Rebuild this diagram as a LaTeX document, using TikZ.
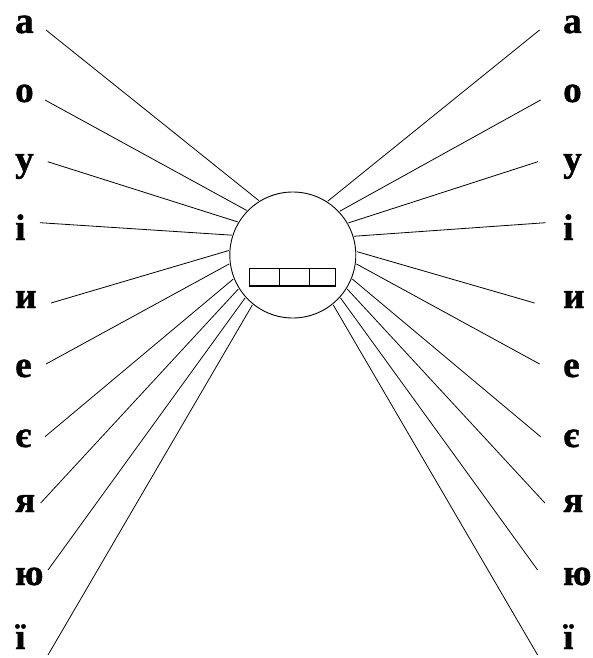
\documentclass[tikz,border=0pt]{standalone}
\usepackage{fontspec}
\setmainfont{Liberation Serif}
\newfontfamily\lettfont{Liberation Serif}[UprightFont={* Bold},UprightFeatures={FakeBold=1.2}]
\begin{document}
\begin{tikzpicture}[x=1pt,y=-1pt,
  letter/.style={anchor=base west,inner sep=0pt,font=\lettfont\fontsize{37}{40}\selectfont},
  ray/.style={line width=0.8pt},
  hub/.style={circle,draw,line width=0.9pt,minimum size=126pt,inner sep=0pt,outer sep=1.2pt},
  cell/.style={draw,line width=1.1pt}]
\useasboundingbox (0,0) rectangle (593,658);
\node[hub] (c) at (292.8,255) {};
\draw[cell] (249.3,268.7) rectangle (279.7,286);
\draw[cell] (279.7,268.7) rectangle (309.7,286);
\draw[cell] (309.7,268.7) rectangle (335.3,286);
% letters
\foreach \n/\t/\y in {1/а/33,2/о/102,3/у/171,4/і/240,5/и/308,6/е/377,7/є/447,8/я/512,9/ю/585,10/ї/649}{
  \node[letter] (L\n) at (15,\y) {\t};
  \node[letter] (R\n) at (563,\y) {\t};
}
% outer ends
\foreach \n/\x/\y in {1/46/30,2/45/100,3/47.7/161.7,4/40/222.7,5/51/303,6/46/364,7/45/436.7,8/40.7/503,9/48/570,10/48/655}{
  \coordinate (l\n) at (\x,\y);
  \coordinate (r\n) at (585.6-\x,\y);
}
\foreach \n/\a in {1/122.2,2/136.8,3/149.3,4/162.6,5/176.1,6/188.3,7/202.2,8/212.2,9/222.2,10/231.8}{
  \draw[ray] (l\n) -- (c.\a);
  \pgfmathsetmacro{\b}{180-\a}
  \draw[ray] (r\n) -- (c.\b);
}
\end{tikzpicture}
\end{document}
